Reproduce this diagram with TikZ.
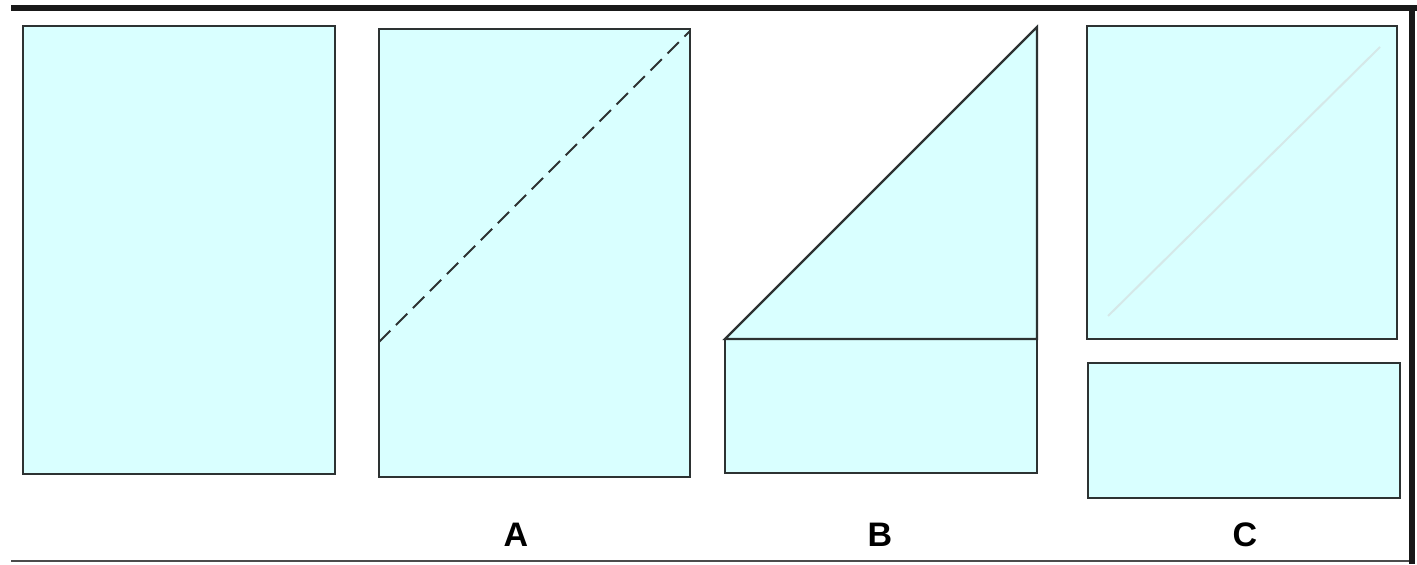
\documentclass[tikz,border=0pt]{standalone}
\usepackage{fontspec}
\setmainfont{Liberation Sans}
\usetikzlibrary{positioning}
\definecolor{sheetcyan}{RGB}{217, 255, 255}
\definecolor{edgegray}{RGB}{45, 50, 50}

\begin{document}
\begin{tikzpicture}[x=0.5pt, y=-0.5pt,
    sheet/.style={fill=sheetcyan, draw=edgegray, line width=1.1pt},
    caption/.style={font=\fontsize{17}{20}\selectfont\bfseries, inner sep=0pt}]
            \useasboundingbox (0,0) rectangle (1417,564);
            \fill[white] (0,0) rectangle (1417,564);

            % frame
            \fill[black!90] (11,5) rectangle (1417,11);
            \fill[black!90] (1409,5) rectangle (1415,564);
            \draw[black!70, line width=1pt] (11,561) -- (1409,561);

            % plain sheet
            \draw[sheet] (23,26) rectangle (335,474);

            % A: sheet with fold line
            \draw[sheet] (379,29) rectangle (690,477);
            \draw[edgegray, line width=1pt, dash pattern=on 8pt off 4pt] (379,342) -- (690,31);
            \node[caption] (labA) at (516,535) {A};

            % B: folded triangle over strip
            \draw[sheet] (725,339) rectangle (1037,473);
            \draw[sheet] (725,339) -- (1037,27) -- (1037,339) -- cycle;
            \node[caption] (labB) at (880,535) {B};

            % C: square and strip apart
            \draw[sheet] (1087,26) rectangle (1397,339);
            \draw[sheetcyan!85!black!60, line width=1pt] (1108,316) -- (1380,47);
            \draw[sheet] (1088,363) rectangle (1400,498);
            \node[caption] (labC) at (1245,535) {C};
\end{tikzpicture}
\end{document}
